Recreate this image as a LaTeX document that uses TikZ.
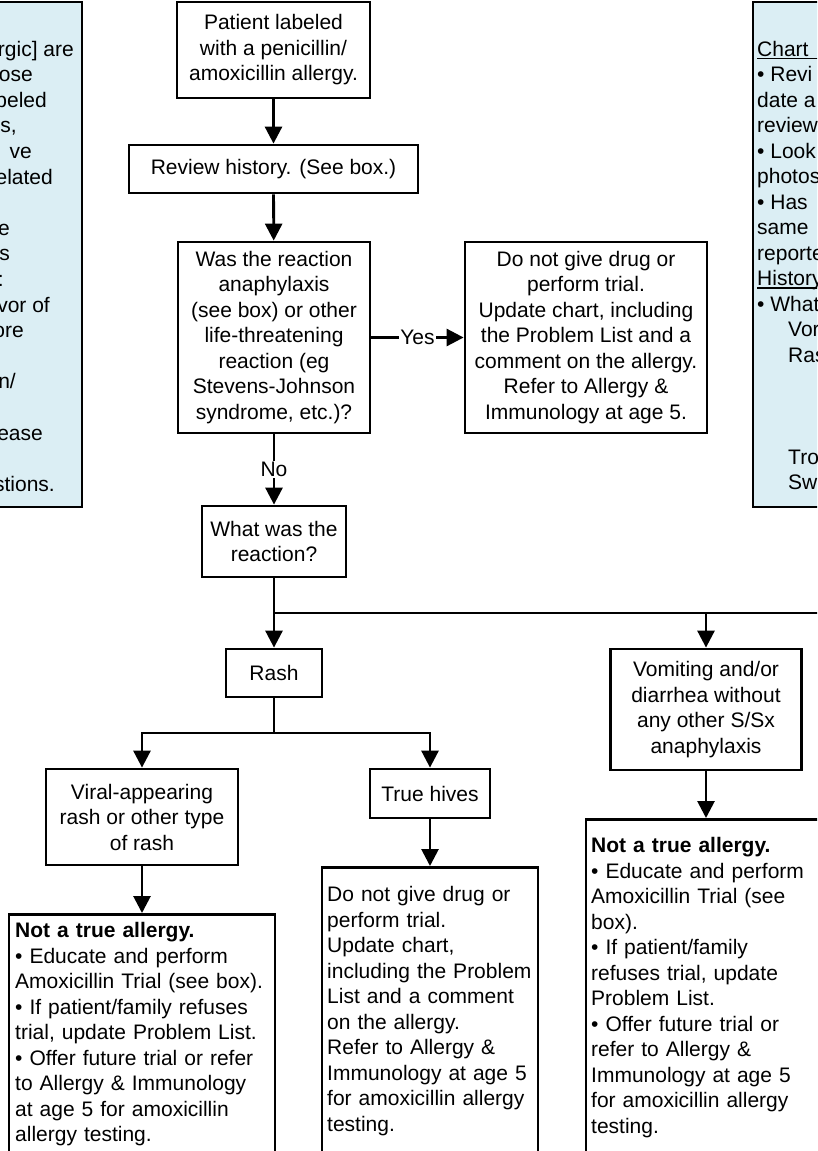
\documentclass[tikz,border=0pt]{standalone}
\usepackage{fontspec}
\setmainfont{Liberation Sans}
\usetikzlibrary{arrows.meta}
\definecolor{notefill}{RGB}{219,238,244}
\begin{document}
\begin{tikzpicture}[x=1pt,y=-1pt,
  every node/.style={font=\fontsize{21}{25.5}\selectfont, inner sep=0pt},
  box/.style={draw, line width=2.8pt, align=center, fill=white},
  openbox/.style={draw, line width=2.8pt, fill=white, anchor=north},
  note/.style={draw, line width=2.8pt, fill=notefill},
  body/.style={anchor=base west, align=left},
  conn/.style={line width=2.8pt},
  arrow/.style={conn, -{Triangle[length=17pt,width=17pt]}},
  lbl/.style={fill=white, inner sep=1.5pt},
]
\useasboundingbox (0,0) rectangle (817,1151);
\clip (0,0) rectangle (817,1151);

% side notes (history checklist and chart review)
\node[note, minimum width=122pt, minimum height=505pt] (histnote) at (21,254.5) {};
\foreach \k/\xr/\t in {0/74/{rgic] are},1/33/{ose},2/47/{beled},3/17/{s,},4/32/{ve},
  5/53/{elated},7/10/{e},8/10/{s},9/4/{:},10/50/{vor of},11/24/{ore},13/16/{n/},
  15/43/{lease},17/55/{stions.}}
  \node[anchor=base east] (lf\k) at (\xr, 56+25.6*\k) {\t};

\node[note, minimum width=127pt, minimum height=505pt] (chartnote) at (816.5,254.5) {};
\foreach \k/\xl/\t in {0/757/{Chart},1/757/{• Revi},2/757/{date a},3/757/{review},
  4/757/{• Look},5/757/{photos},6/757/{• Has},7/757/{same},8/757/{reporte},
  9/757/{History},10/757/{• What},11/788/{Vor},12/788/{Ras},16/788/{Tro},17/788/{Sw}}
  \node[anchor=base west] (rf\k) at (\xl, 56+25.5*\k) {\t};
\coordinate (ulend0) at (830,58.5);
\coordinate (ulend9) at (830,288);
\draw[line width=1.4pt] ([yshift=-2.5pt]rf0.base west) -- (ulend0);
\draw[line width=1.4pt] ([yshift=-2.5pt]rf9.base west) -- (ulend9);

% main flow
\node[box, minimum width=193pt, minimum height=96pt] (patient) at (273.5,50)
  {Patient labeled\\with a penicillin/\\amoxicillin allergy.};
\node[box, minimum width=289pt, minimum height=48pt] (review) at (273.5,169)
  {Review history. (See box.)};
\node[box, minimum width=192pt, minimum height=191pt] (question) at (274,337.5)
  {Was the reaction\\anaphylaxis\\(see box) or other\\life-threatening\\reaction (eg\\Stevens-Johnson\\syndrome, etc.)?};
\node[box, minimum width=242pt, minimum height=191pt] (severe) at (586,337.5)
  {Do not give drug or\\perform trial.\\Update chart, including\\the Problem List and a\\comment on the allergy.\\Refer to Allergy \&\\Immunology at age 5.};
\node[box, minimum width=144pt, minimum height=71pt] (what) at (274,541.5)
  {What was the\\reaction?};
\node[box, minimum width=96pt, minimum height=48pt] (rash) at (274,673) {Rash};
\node[box, minimum width=191pt, minimum height=121pt] (vomit) at (706,709.5)
  {Vomiting and/or\\diarrhea without\\any other S/Sx\\anaphylaxis};
\node[box, minimum width=192pt, minimum height=96pt] (viral) at (142,817)
  {Viral-appearing\\rash or other type\\of rash};
\node[box, minimum width=120pt, minimum height=49pt] (hives) at (430,793.5) {True hives};

% outcome boxes running past the lower edge
\node[openbox, minimum width=266pt, minimum height=300pt] (ntaleft) at (142,913) {};
\node[body, text width=255pt] (ntalefttext) at (15,937.5)
  {\textbf{Not a true allergy.}\\• Educate and perform\\Amoxicillin Trial (see box).\\• If patient/family refuses\\trial, update Problem List.\\• Offer future trial or refer\\to Allergy \& Immunology\\at age 5 for amoxicillin\\allergy testing.};
\node[openbox, minimum width=216pt, minimum height=340pt] (hivesout) at (430,866) {};
\node[body, text width=208pt] (hivesouttext) at (327,901.5)
  {Do not give drug or\\perform trial.\\Update chart,\\including the Problem\\List and a comment\\on the allergy.\\Refer to Allergy \&\\Immunology at age 5\\for amoxicillin allergy\\testing.};
\node[openbox, minimum width=240pt, minimum height=380pt] (ntaright) at (706,818) {};
\node[body, text width=225pt] (ntarighttext) at (591,852.5)
  {\textbf{Not a true allergy.}\\• Educate and perform\\Amoxicillin Trial (see\\box).\\• If patient/family\\refuses trial, update\\Problem List.\\• Offer future trial or\\refer to Allergy \&\\Immunology at age 5\\for amoxicillin allergy\\testing.};

% connectors
\draw[arrow] (patient) -- (review);
\draw[arrow] (review) -- (question);
\draw[arrow] (question) -- node[lbl] (yes) {Yes} (severe);
\draw[arrow] (question) -- node[lbl] (no) {No} (what);

\coordinate (split) at (274,613);
\coordinate (splitend) at (830,613);
\draw[arrow] (what) -- (rash);
\draw[conn] (split) -- (splitend);
\draw[arrow] (vomit.north |- split) -- (vomit);

\coordinate (rashsplit) at (274,733);
\draw[conn] (rash.south) -- (rashsplit);
\draw[arrow] (rashsplit) -| (viral.north);
\draw[arrow] (rashsplit) -| (hives.north);

\draw[arrow] (viral) -- (ntaleft);
\draw[arrow] (hives) -- (hivesout);
\draw[arrow] (vomit) -- (ntaright);
\end{tikzpicture}
\end{document}
